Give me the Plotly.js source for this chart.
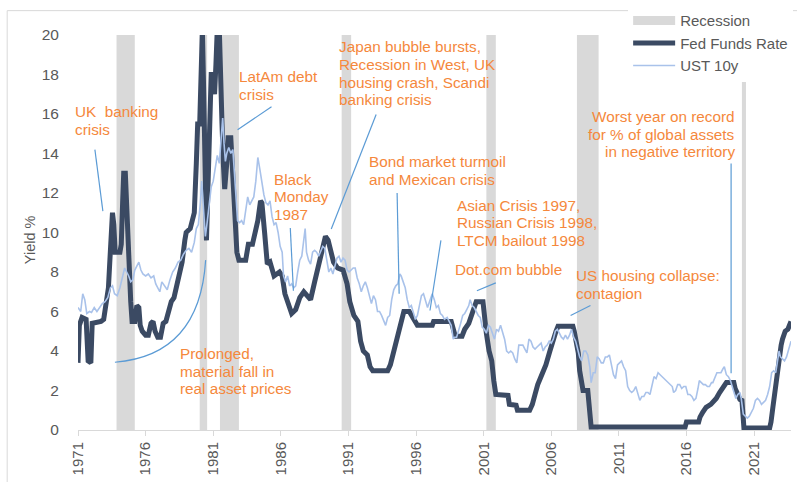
<!DOCTYPE html>
<html><head><meta charset="utf-8">
<script src="https://cdn.plot.ly/plotly-3.0.1.min.js"></script>
<style>html,body{margin:0;padding:0;background:#fff}#chart{width:797px;height:482px}</style>
</head><body><div id="chart"></div>
<script>
// ---- data ----
const seriesNames = ['Recession', 'Fed Funds Rate', 'UST 10y'];
const tickYears = [1971, 1976, 1981, 1986, 1991, 1996, 2001, 2006, 2011, 2016, 2021];
const yTicks = [0, 2, 4, 6, 8, 10, 12, 14, 16, 18, 20];

const recessionStart = [1973.85, 1980.0, 1981.5, 1990.5, 2001.2, 2007.9, 2020.1];
const recessionEnd   = [1975.2, 1980.55, 1982.9, 1991.2, 2001.9, 2009.5, 2020.4];

const ffrYears = [1971.0,1971.1,1971.3,1971.6,1971.75,1971.95,1972.05,1972.7,1972.9,1973.1,1973.25,1973.35,1973.45,1973.55,1973.65,1973.75,1974.1,1974.2,1974.3,1974.38,1974.5,1974.58,1974.7,1974.8,1974.9,1975.0,1975.2,1975.35,1975.5,1975.6,1975.75,1976.0,1976.2,1976.4,1976.55,1976.7,1976.9,1977.1,1977.3,1977.5,1977.7,1977.9,1978.1,1978.3,1978.5,1978.7,1978.9,1979.0,1979.3,1979.6,1979.75,1979.85,1980.0,1980.1,1980.2,1980.3,1980.4,1980.5,1980.6,1980.75,1980.85,1981.0,1981.1,1981.2,1981.3,1981.45,1981.55,1981.65,1981.75,1981.85,1982.0,1982.1,1982.3,1982.45,1982.55,1982.65,1982.75,1982.9,1983.4,1983.6,1983.9,1984.1,1984.3,1984.5,1984.6,1984.8,1985.0,1985.2,1985.5,1985.9,1986.1,1986.3,1986.6,1986.8,1987.1,1987.4,1987.7,1987.9,1988.2,1988.5,1988.8,1989.1,1989.3,1989.5,1989.7,1989.9,1990.2,1990.6,1990.9,1991.1,1991.4,1991.7,1991.9,1992.1,1992.4,1992.6,1992.8,1993.9,1994.1,1994.3,1994.5,1994.7,1994.9,1995.1,1995.5,1995.7,1996.0,1996.1,1997.2,1997.3,1998.6,1998.8,1998.9,1999.4,1999.6,1999.9,2000.1,2000.3,2000.45,2000.95,2001.05,2001.2,2001.4,2001.6,2001.75,2001.9,2002.8,2002.9,2003.4,2003.5,2004.4,2004.6,2004.8,2005.0,2005.3,2005.6,2005.9,2006.1,2006.35,2006.5,2007.6,2007.7,2007.85,2008.0,2008.1,2008.25,2008.35,2008.7,2008.8,2008.95,2015.9,2016.0,2016.9,2017.0,2017.2,2017.45,2017.8,2018.2,2018.45,2018.7,2018.95,2019.5,2019.6,2019.8,2019.95,2020.1,2020.2,2020.25,2022.15,2022.25,2022.4,2022.5,2022.6,2022.7,2022.85,2023.0,2023.1,2023.3,2023.5,2023.6,2023.73];
const ffrValues = [3.4,5.3,5.7,5.6,3.5,3.4,5.4,5.5,5.6,6.6,7.2,8.5,10.5,11.0,10.4,9.0,9.0,9.4,11.5,13.0,13.0,11.5,9.6,8.0,6.5,5.5,5.5,6.3,6.2,5.3,5.0,4.8,4.8,5.4,5.5,5.0,4.7,4.7,5.4,5.5,6.0,6.5,6.7,7.3,7.8,8.5,9.6,10.0,10.2,11.0,13.5,15.5,15.5,17.5,20.3,17.0,11.0,9.6,12.0,15.5,18.0,18.0,17.0,18.5,20.3,20.3,17.0,15.5,13.5,12.2,13.5,14.8,14.8,13.0,11.0,9.5,9.0,8.6,8.6,9.4,9.4,10.0,10.6,11.6,11.5,10.0,8.4,8.5,7.8,8.0,7.8,6.9,6.2,5.9,6.1,6.7,7.0,6.8,6.6,7.5,8.3,9.1,9.8,9.6,9.0,8.5,8.2,8.1,7.4,6.5,5.8,5.5,4.5,4.0,3.8,3.2,3.0,3.0,3.3,3.8,4.3,4.8,5.5,6.0,6.0,5.8,5.5,5.3,5.3,5.5,5.5,5.0,4.75,4.75,5.1,5.4,5.8,6.2,6.5,6.5,5.8,4.9,4.0,3.5,2.5,1.8,1.75,1.3,1.25,1.0,1.0,1.3,1.8,2.3,2.8,3.3,4.0,4.5,5.0,5.25,5.25,5.0,4.5,3.9,3.0,2.2,2.0,2.0,1.0,0.15,0.15,0.4,0.4,0.65,0.9,1.15,1.3,1.6,1.9,2.15,2.4,2.4,2.1,1.8,1.55,1.5,0.6,0.1,0.1,0.4,1.2,1.7,2.5,3.1,3.9,4.3,4.6,5.0,5.1,5.3,5.5];

const ustYears = [1971.0,1971.2,1971.35,1971.5,1971.65,1971.85,1972.0,1972.2,1972.4,1972.6,1972.8,1973.0,1973.2,1973.4,1973.55,1973.7,1973.9,1974.1,1974.3,1974.45,1974.6,1974.75,1974.9,1975.05,1975.2,1975.35,1975.5,1975.65,1975.8,1976.0,1976.2,1976.4,1976.6,1976.75,1976.9,1977.05,1977.2,1977.4,1977.6,1977.8,1978.0,1978.2,1978.4,1978.6,1978.8,1979.0,1979.2,1979.4,1979.6,1979.75,1979.9,1980.05,1980.15,1980.3,1980.42,1980.55,1980.7,1980.85,1981.0,1981.15,1981.3,1981.45,1981.6,1981.7,1981.8,1981.9,1982.0,1982.15,1982.3,1982.45,1982.55,1982.65,1982.8,1982.95,1983.1,1983.25,1983.4,1983.55,1983.7,1983.85,1984.0,1984.15,1984.3,1984.45,1984.6,1984.75,1984.9,1985.05,1985.2,1985.35,1985.5,1985.65,1985.8,1985.95,1986.1,1986.2,1986.35,1986.5,1986.65,1986.8,1986.95,1987.1,1987.25,1987.4,1987.55,1987.7,1987.8,1987.9,1988.05,1988.2,1988.35,1988.5,1988.65,1988.8,1988.95,1989.1,1989.25,1989.4,1989.55,1989.7,1989.85,1990.0,1990.15,1990.3,1990.45,1990.6,1990.75,1990.9,1991.05,1991.2,1991.35,1991.5,1991.65,1991.8,1991.95,1992.1,1992.25,1992.4,1992.55,1992.7,1992.85,1993.0,1993.15,1993.3,1993.45,1993.6,1993.75,1993.9,1994.05,1994.2,1994.35,1994.5,1994.65,1994.8,1994.9,1995.05,1995.2,1995.35,1995.5,1995.65,1995.8,1995.95,1996.1,1996.25,1996.4,1996.55,1996.7,1996.85,1997.0,1997.2,1997.35,1997.5,1997.65,1997.8,1997.95,1998.1,1998.3,1998.45,1998.6,1998.75,1998.85,1999.0,1999.15,1999.3,1999.45,1999.6,1999.75,1999.9,2000.0,2000.15,2000.3,2000.45,2000.6,2000.75,2000.9,2001.05,2001.2,2001.35,2001.5,2001.65,2001.8,2001.95,2002.1,2002.25,2002.4,2002.55,2002.7,2002.85,2003.0,2003.15,2003.3,2003.45,2003.6,2003.75,2003.9,2004.05,2004.2,2004.35,2004.5,2004.65,2004.8,2004.95,2005.1,2005.25,2005.4,2005.55,2005.7,2005.85,2006.0,2006.15,2006.3,2006.45,2006.6,2006.75,2006.9,2007.05,2007.2,2007.35,2007.5,2007.65,2007.8,2007.95,2008.1,2008.25,2008.4,2008.55,2008.7,2008.85,2008.95,2009.1,2009.25,2009.4,2009.55,2009.7,2009.85,2010.0,2010.15,2010.3,2010.45,2010.6,2010.75,2010.9,2011.05,2011.2,2011.35,2011.5,2011.65,2011.8,2011.95,2012.1,2012.25,2012.4,2012.55,2012.7,2012.85,2013.0,2013.15,2013.3,2013.45,2013.6,2013.75,2013.9,2014.05,2014.2,2014.35,2014.5,2014.65,2014.8,2014.95,2015.05,2015.2,2015.35,2015.5,2015.65,2015.8,2015.95,2016.1,2016.25,2016.4,2016.55,2016.7,2016.85,2016.95,2017.1,2017.25,2017.4,2017.55,2017.7,2017.85,2017.95,2018.1,2018.25,2018.4,2018.55,2018.7,2018.8,2018.95,2019.1,2019.25,2019.4,2019.55,2019.65,2019.8,2019.95,2020.05,2020.2,2020.35,2020.5,2020.65,2020.8,2020.95,2021.1,2021.25,2021.4,2021.55,2021.7,2021.85,2022.0,2022.15,2022.3,2022.45,2022.6,2022.75,2022.85,2022.95,2023.1,2023.25,2023.4,2023.55,2023.73];
const ustValues = [6.2,6.0,6.9,6.6,5.9,6.0,5.95,6.2,6.0,6.2,6.4,6.5,6.7,7.2,7.3,6.9,6.8,7.2,7.7,8.2,8.0,7.8,7.5,7.6,8.1,8.3,8.5,8.1,7.9,7.8,7.9,7.7,7.8,7.4,7.2,7.0,7.5,7.3,7.1,7.6,8.0,8.2,8.5,8.6,8.9,9.1,9.2,9.0,9.5,10.2,10.4,11.5,12.6,11.0,9.8,10.5,11.5,12.3,12.6,13.2,13.9,13.5,14.8,15.8,14.5,13.6,14.0,14.3,14.0,14.2,13.2,12.0,10.6,10.5,10.6,10.4,11.0,11.8,11.4,11.6,11.8,12.6,13.8,13.2,12.4,11.9,11.5,11.4,11.6,10.8,10.4,10.5,10.0,9.3,9.0,7.8,7.5,7.8,7.3,7.4,7.2,7.3,8.0,8.6,8.8,9.6,10.2,9.0,8.6,8.4,9.0,9.1,9.0,8.8,9.1,9.3,9.2,8.6,8.0,8.2,7.9,8.3,8.7,8.8,8.5,8.7,8.6,8.1,8.0,8.1,8.2,8.2,7.7,7.4,7.0,7.3,7.5,7.2,6.8,6.4,6.8,6.6,6.0,6.0,5.8,5.5,5.3,5.7,5.8,6.6,7.1,7.3,7.4,7.9,7.8,7.5,7.2,6.6,6.2,6.3,6.0,5.6,5.8,6.4,6.8,6.9,6.6,6.2,6.5,6.9,6.6,6.2,6.3,5.9,5.8,5.6,5.7,5.5,5.3,4.6,4.7,4.7,5.0,5.4,5.8,5.9,6.1,6.3,6.6,6.3,6.2,6.0,5.8,5.7,5.2,5.1,4.9,5.3,5.2,4.9,4.6,5.1,5.0,5.3,5.0,4.6,4.0,3.9,4.0,3.9,3.6,3.4,4.3,4.3,4.3,4.1,3.9,4.6,4.5,4.2,4.1,4.2,4.3,4.4,4.0,4.2,4.3,4.5,4.4,4.6,5.0,5.1,4.9,4.7,4.6,4.8,4.6,4.8,5.1,4.7,4.5,4.1,3.7,3.5,4.0,4.0,3.8,3.2,2.4,2.9,2.9,3.7,3.6,3.4,3.4,3.7,3.7,3.8,3.2,2.8,2.6,3.3,3.4,3.5,3.2,3.0,2.2,2.0,1.9,2.0,2.2,1.8,1.5,1.7,1.7,1.9,1.9,1.8,2.3,2.7,2.6,2.9,2.8,2.7,2.6,2.5,2.4,2.3,2.2,1.9,2.0,2.3,2.3,2.1,2.2,2.2,1.8,1.8,1.7,1.5,1.6,2.1,2.5,2.4,2.3,2.3,2.2,2.2,2.4,2.4,2.7,2.9,2.9,2.9,3.1,3.2,2.8,2.7,2.5,2.2,1.8,1.6,1.8,1.9,1.6,0.8,0.7,0.6,0.7,0.9,1.1,1.5,1.6,1.5,1.3,1.4,1.5,1.8,2.2,2.9,3.0,2.9,3.5,4.0,3.7,3.6,3.5,3.7,4.1,4.5];

// ---- annotation texts (layout placement kept separately) ----
const noteTexts = [
  ['UK\u00a0 banking', 'crisis'],
  ['LatAm debt', 'crisis'],
  ['Black', 'Monday', '1987'],
  ['Japan bubble bursts,', 'Recession in West, UK', 'housing crash, Scandi', 'banking crisis'],
  ['Bond market turmoil', 'and Mexican crisis'],
  ['Asian Crisis 1997,', 'Russian Crisis 1998,', 'LTCM bailout 1998'],
  ['Dot.com bubble'],
  ['US housing collapse:', 'contagion'],
  ['Worst year on record', 'for % of global assets', 'in negative territory'],
  ['Prolonged,', 'material fall in', 'real asset prices']
];

// ---- layout / style ----
const FONT = '"Liberation Sans", Arial, sans-serif';
const ORANGE = '#f5883c';
const PTR = '#5b9bd5';
const GREY = '#595959';
const LINE_GAP = 17.7;
const X0 = 1971, X1 = 2023.73;
const toPaperX = v => (v - X0) / (X1 - X0);

const notePlace = [
  {x: 1970.61, y: 16.12, anchor: 'left',  ptr: [1972.25, 14.2, 1972.84, 11.08]},
  {x: 1982.73, y: 17.88, anchor: 'left',  ptr: [1985.31, 16.37, 1982.8, 15.2]},
  {x: 1985.38, y: 12.70, anchor: 'left',  ptr: [1986.7, 10.23, 1986.93, 7.05]},
  {x: 1990.17, y: 19.40, anchor: 'left',  ptr: [1993.05, 15.97, 1989.73, 10.18]},
  {x: 1992.39, y: 13.60, anchor: 'left',  ptr: [1994.6, 12.0, 1994.75, 6.9]},
  {x: 1998.88, y: 11.39, anchor: 'left',  ptr: [1997.84, 9.6, 1997.03, 6.05]},
  {x: 1998.73, y: 8.11,  anchor: 'left',  ptr: [2001.9, 7.45, 2000.5, 7.05]},
  {x: 2007.65, y: 7.81,  anchor: 'left',  ptr: [2008.9, 6.3, 2007.43, 5.8]},
  {x: 2019.75, y: 15.87, anchor: 'right', ptr: [2019.3, 13.5, 2019.3, 2.87]},
  {x: 1978.37, y: 3.88,  anchor: 'left',  curve: 'M 1973.73,3.43 Q 1980.0,3.78 1980.44,8.6'}
];

const annotations = [];
const shapes = [];

recessionStart.forEach((s, i) => {
  shapes.push({type: 'rect', xref: 'x', yref: 'y', x0: s, x1: recessionEnd[i], y0: 0, y1: 20,
    fillcolor: '#d9d9d9', line: {width: 0}, layer: 'below'});
});

noteTexts.forEach((lines, k) => {
  const p = notePlace[k];
  lines.forEach((t, i) => {
    annotations.push({xref: 'paper', yref: 'paper', x: toPaperX(p.x), y: p.y / 20, text: t, showarrow: false,
      xanchor: p.anchor, yanchor: 'middle', yshift: -i * LINE_GAP,
      align: p.anchor, font: {family: FONT, size: 15.3, color: ORANGE}});
  });
  if (p.ptr) {
    shapes.push({type: 'line', xref: 'x', yref: 'y', x0: p.ptr[0], y0: p.ptr[1], x1: p.ptr[2], y1: p.ptr[3],
      line: {color: PTR, width: 1.2}, layer: 'above'});
  } else if (p.curve) {
    shapes.push({type: 'path', xref: 'x', yref: 'y', path: p.curve,
      line: {color: PTR, width: 1.2}, layer: 'above'});
  }
});

// Y axis title
annotations.push({xref: 'paper', yref: 'paper', x: -0.068, y: 0.482, text: 'Yield %', textangle: -90,
  showarrow: false, xanchor: 'center', yanchor: 'middle', font: {family: FONT, size: 14.5, color: GREY}});

// outer frame (left + top edges)
shapes.push({type: 'path', xref: 'paper', yref: 'paper',
  path: 'M -0.0993,-0.2 L -0.0993,1.0617 L 1.1,1.0617', line: {color: '#d9d9d9', width: 1}, layer: 'above'});

const traces = [
  {x: [null], y: [null], mode: 'lines', name: seriesNames[0], line: {color: '#d9d9d9', width: 9}, hoverinfo: 'skip'},
  {x: ffrYears, y: ffrValues, mode: 'lines', name: seriesNames[1], line: {color: '#3b4a63', width: 5}},
  {x: ustYears, y: ustValues, mode: 'lines', name: seriesNames[2], line: {color: '#a9c2ea', width: 1.6}}
];

const layout = {
  width: 797, height: 482,
  margin: {l: 78, r: 4, t: 33, b: 52, pad: 0},
  paper_bgcolor: '#fff', plot_bgcolor: '#fff',
  font: {family: FONT, color: GREY},
  showlegend: true,
  legend: {x: 1.003, y: 1.078, xanchor: 'right', yanchor: 'top', bgcolor: '#fff',
    font: {family: FONT, size: 15, color: GREY}, itemwidth: 42, tracegroupgap: 0},
  xaxis: {range: [X0, X1], tickvals: tickYears, ticktext: tickYears.map(String),
    tickangle: -90, showgrid: false, zeroline: false, showline: true, linecolor: '#d9d9d9',
    ticks: 'outside', ticklen: 5, tickcolor: '#d9d9d9',
    tickfont: {family: FONT, size: 15, color: GREY}},
  yaxis: {range: [0, 20], tickvals: yTicks, showgrid: false, zeroline: false, showline: false,
    ticks: 'outside', ticklen: 15, tickcolor: 'rgba(0,0,0,0)',
    tickfont: {family: FONT, size: 15.5, color: GREY}},
  shapes: shapes,
  annotations: annotations
};

Plotly.newPlot('chart', traces, layout, {displayModeBar: false, staticPlot: true});
</script>
</body></html>
